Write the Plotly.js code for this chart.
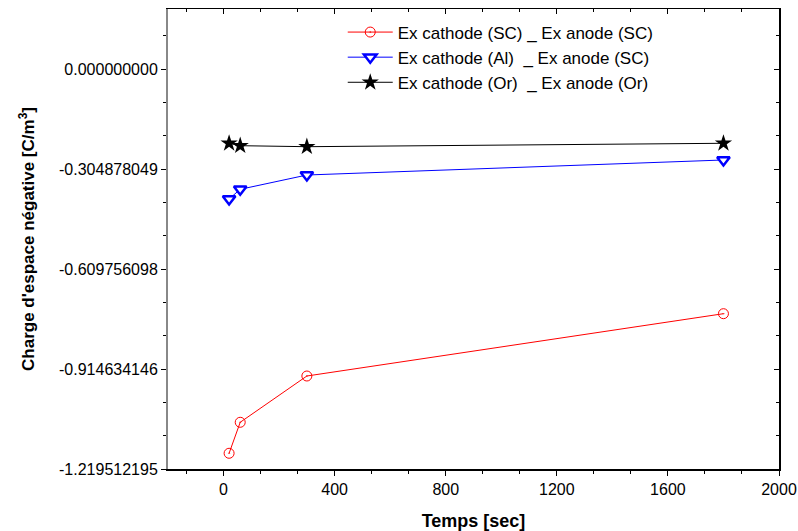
<!DOCTYPE html>
<html>
<head>
<meta charset="utf-8">
<script src="https://cdn.plot.ly/plotly-3.0.1.min.js"></script>
<style>html,body{margin:0;padding:0;background:#fff;}#chart{width:798px;height:531px;}</style>
</head>
<body>
<div id="chart"></div>
<script>
// Data
const timeSec = [20, 60, 300, 1800];
const chargeScSc = [-1.1716, -1.0771, -0.9360, -0.7460];
const chargeAlSc = [-0.3963, -0.3668, -0.3232, -0.2774];
const chargeOrOr = [-0.2265, -0.2338, -0.2369, -0.2265];

const seriesNames = [
  "Ex cathode (SC) _ Ex anode (SC)",
  "Ex cathode (Al)\u00a0\u00a0_ Ex anode (SC)",
  "Ex cathode (Or)\u00a0\u00a0_ Ex anode (Or)"
];

const xTickVals = [0, 400, 800, 1200, 1600, 2000];
const xTickText = ["0", "400", "800", "1200", "1600", "2000"];
const yTickVals = [0, -0.304878049, -0.609756098, -0.914634146, -1.219512195];
const yTickText = ["0.000000000", "-0.304878049", "-0.609756098", "-0.914634146", "-1.219512195"];

const xRange = [-200, 2000];
const yRange = [-1.219512195, 0.182926829];

const FONT = "Arial, 'Liberation Sans', sans-serif";

const traces = [
  {
    x: timeSec, y: chargeScSc, name: seriesNames[0], type: "scatter", mode: "lines+markers",
    line: {color: "#ff0000", width: 1},
    marker: {symbol: "circle-open-dot", size: 10, color: "#ff0000", line: {color: "#ff0000", width: 1}}
  },
  {
    x: timeSec, y: chargeAlSc, name: seriesNames[1], type: "scatter", mode: "lines+markers",
    line: {color: "#0000ff", width: 1},
    marker: {symbol: "triangle-down", size: 11, color: "#ffffff", line: {color: "#0000ff", width: 2.5}}
  },
  {
    x: timeSec, y: chargeOrOr, name: seriesNames[2], type: "scatter", mode: "lines+markers",
    line: {color: "#000000", width: 1},
    marker: {symbol: "star", size: 13, color: "#000000", line: {width: 0}}
  },
  {
    x: [], y: [], xaxis: "x2", yaxis: "y2", type: "scatter", mode: "markers",
    showlegend: false, hoverinfo: "skip"
  }
];

const baseTickFont = {family: FONT, size: 16, color: "#000"};

const layout = {
  width: 798, height: 531,
  margin: {l: 168, r: 18.5, t: 9, b: 62},
  paper_bgcolor: "#fff", plot_bgcolor: "#fff",
  showlegend: true,
  legend: {
    x: 0.286, y: 0.988, xanchor: "left", yanchor: "top",
    bgcolor: "rgba(0,0,0,0)", borderwidth: 0,
    font: {family: FONT, size: 17, color: "#000"},
    itemwidth: 45,
    tracegroupgap: 0
  },
  xaxis: {
    range: xRange, tickmode: "array", tickvals: xTickVals, ticktext: xTickText,
    ticks: "outside", ticklen: 5, tickwidth: 1, tickcolor: "#000",
    showline: true, linecolor: "#000", linewidth: 1.5, showgrid: false, zeroline: false,
    tickfont: baseTickFont,
    minor: {tick0: 0, dtick: 400 / 3, ticks: "outside", ticklen: 3, tickcolor: "#000", showgrid: false},
    title: {text: "<b>Temps [sec]</b>", font: {family: "'Liberation Sans Narrow', Arial, sans-serif", size: 18, color: "#000"}, standoff: 17}
  },
  yaxis: {
    range: yRange, tickmode: "array", tickvals: yTickVals, ticktext: yTickText,
    ticks: "outside", ticklen: 5, tickwidth: 1, tickcolor: "#000",
    showline: true, linecolor: "#888", linewidth: 2, showgrid: false, zeroline: false,
    tickfont: baseTickFont,
    minor: {tick0: 0, dtick: 0.304878049 / 3, ticks: "outside", ticklen: 3, tickcolor: "#000", showgrid: false},
    title: {text: "<b>Charge d'espace négative [C/m<sup>3</sup>]</b>", font: {family: FONT, size: 17, color: "#000"}, standoff: 20}
  },
  xaxis2: {
    overlaying: "x", side: "top", anchor: "y2", range: xRange,
    tickmode: "array", tickvals: xTickVals, showticklabels: false,
    ticks: "inside", ticklen: 5, tickcolor: "#000",
    showline: true, linecolor: "#000", linewidth: 1.5, showgrid: false, zeroline: false,
    minor: {tick0: 0, dtick: 400 / 3, ticks: "inside", ticklen: 3, tickcolor: "#000", showgrid: false}
  },
  yaxis2: {
    overlaying: "y", side: "right", anchor: "x2", range: yRange,
    tickmode: "array", tickvals: yTickVals, showticklabels: false,
    ticks: "inside", ticklen: 5, tickcolor: "#000",
    showline: true, linecolor: "#000", linewidth: 1.5, showgrid: false, zeroline: false,
    minor: {tick0: 0, dtick: 0.304878049 / 3, ticks: "inside", ticklen: 3, tickcolor: "#000", showgrid: false}
  }
};

Plotly.newPlot("chart", traces, layout, {displayModeBar: false, staticPlot: true});
</script>
</body>
</html>
